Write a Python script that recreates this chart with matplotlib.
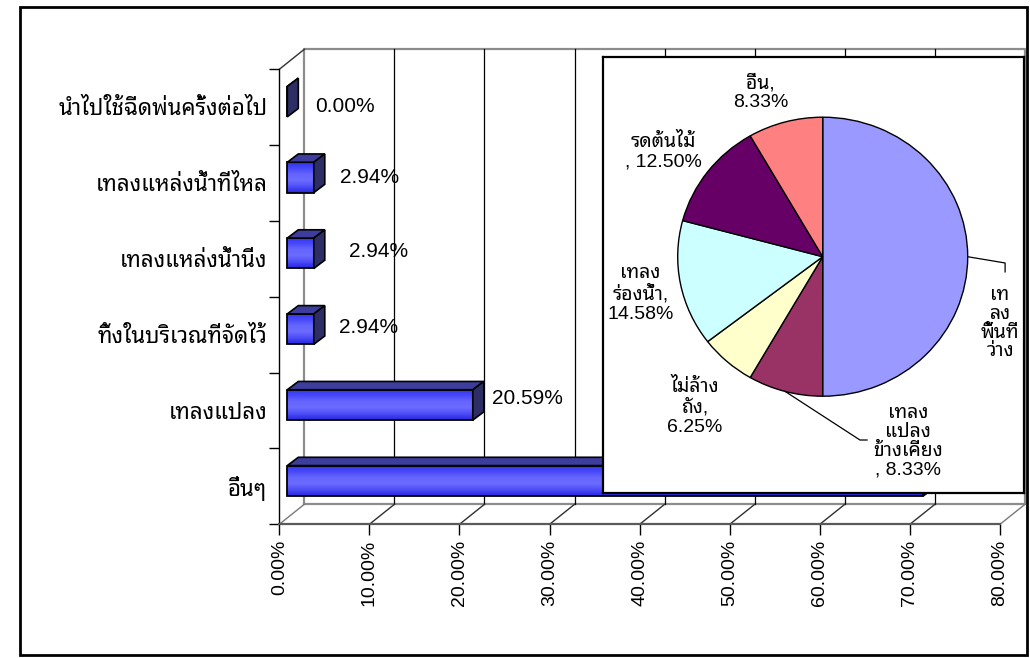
import matplotlib
matplotlib.use("Agg")
import matplotlib.pyplot as plt
import numpy as np
from matplotlib import font_manager
from matplotlib.patches import Polygon, Rectangle

# ---- data -------------------------------------------------------------------
categories = ["นำไปใช้ฉีดพ่นครั้งต่อไป", "เทลงแหล่งน้ำที่ไหล", "เทลงแหล่งน้ำนิ่ง",
              "ทิ้งในบริเวณที่จัดไว้", "เทลงแปลง", "อื่นๆ"]
values = [0.00, 2.94, 2.94, 2.94, 20.59, 70.59]
x_ticks = [0, 10, 20, 30, 40, 50, 60, 70, 80]

pie_names = ["เท\nลง\nพื้นที่\nว่าง", "เทลง\nแปลง\nข้างเคียง", "ไม่ล้าง\nถัง",
             "เทลง\nร่องน้ำ", "รดต้นไม้", "อื่น"]
pie_values = [50.00, 8.33, 6.25, 14.58, 12.50, 8.33]
pie_colors = ["#9999FF", "#993366", "#FFFFCC", "#CCFFFF", "#660066", "#FF8080"]

# ---- fonts: Latin in Liberation Sans, Thai from a Thai family -------------------
names = {f.name for f in font_manager.fontManager.ttflist}
thai = next((n for n in ["Noto Sans Thai Looped", "IBM Plex Sans Thai Looped",
                         "Sarabun", "Noto Sans Thai", "Anuphan"] if n in names), "DejaVu Sans")
FAM = ["Liberation Sans", thai, "DejaVu Sans"]
plt.rcParams["font.family"] = FAM

W, H_FIG = 1030, 658
fig = plt.figure(figsize=(W / 100, H_FIG / 100), dpi=100, facecolor="white")

# front plane of the 3-D bar chart
ax_l, ax_r, ax_t, ax_b = 279.3, 1000.0, 69.3, 524.3
ax = fig.add_axes([ax_l / W, 1 - ax_b / H_FIG, (ax_r - ax_l) / W, (ax_b - ax_t) / H_FIG])
ax.set_facecolor("none")
PXX = (ax_r - ax_l) / 80.0
PXY = (ax_b - ax_t) / 6.0

WX, WY = 25 / PXX, 20 / PXY      # depth of the wall
FX, FY = 8 / PXX, 5.6 / PXY      # bar front plane
BX, BY = 11 / PXX, 8.3 / PXY     # bar depth
BH = 30.4 / PXY                  # bar height

# back wall + gridlines
wall = dict(color="#8c8c8c", lw=1.6, clip_on=False, zorder=1)
ax.plot([WX, WX, 80 + WX, 80 + WX, WX], [-0.5 + WY, 5.5 + WY, 5.5 + WY, -0.5 + WY, -0.5 + WY], **wall)
for t in x_ticks[1:-1]:
    ax.plot([t + WX, t + WX], [-0.5 + WY, 5.5 + WY], color="black", lw=0.9, clip_on=False, zorder=1)
# floor diagonals
for t in x_ticks:
    c = "#7a7a7a" if t in (0, 80) else "#303030"
    ax.plot([t, t + WX], [-0.5, -0.5 + WY], color=c, lw=1.0, clip_on=False, zorder=1)
ax.plot([0, WX], [5.5, 5.5 + WY], color="#303030", lw=1.0, clip_on=False, zorder=1)

# bars (bottom category first)
vals = values[::-1]
cats = categories[::-1]
ypos = np.arange(len(vals))
grad_stops = np.array([[0.20, 0.20, 0.93], [0.28, 0.28, 0.98], [0.40, 0.40, 1.0],
                       [0.42, 0.42, 1.0], [0.30, 0.30, 0.97], [0.15, 0.15, 0.88]])
gy = np.linspace(0, 1, len(grad_stops))
gg = np.linspace(0, 1, 64)
grad = np.stack([np.interp(gg, gy, grad_stops[:, k]) for k in range(3)], axis=1)[:, None, :]

bars = ax.barh(ypos + FY, vals, left=FX, height=BH, color="none", edgecolor="black",
               linewidth=1.3, zorder=4)
for i, (v, b) in enumerate(zip(vals, bars)):
    y0, y1 = i + FY - BH / 2, i + FY + BH / 2
    x0, x1 = FX, FX + v
    if v > 0:
        im = ax.imshow(grad, extent=[x0, x1, y0, y1], aspect="auto", origin="upper",
                       interpolation="bilinear", zorder=3)
        im.set_clip_path(b)
    ax.add_patch(Polygon([(x0, y1), (x1, y1), (x1 + BX, y1 + BY), (x0 + BX, y1 + BY)],
                         closed=True, fc="#3d3d9e", ec="black", lw=1.2, zorder=4))
    ax.add_patch(Polygon([(x1, y0), (x1 + BX, y0 + BY), (x1 + BX, y1 + BY), (x1, y1)],
                         closed=True, fc="#2e2e66", ec="black", lw=1.2, zorder=4))

# value labels (pixel nudges, top category first)
label_nudge = [(17, -5), (15, 0), (24, 2), (14, 2), (8, 6), (8, 0)][::-1]
for i, v in enumerate(vals):
    ax.annotate(f"{v:.2f}%", xy=(FX + v + BX, i + FY), xytext=label_nudge[i],
                textcoords="offset pixels", ha="left", va="center", fontsize=15,
                color="black", zorder=5, annotation_clip=False)

ax.set_xlim(0, 80)
ax.set_ylim(-0.5, 5.5)
for s in ("top", "right"):
    ax.spines[s].set_visible(False)
ax.spines["left"].set_color("black")
ax.spines["left"].set_linewidth(1.0)
ax.spines["bottom"].set_color("#5a5a5a")
ax.spines["bottom"].set_linewidth(1.6)

ax.set_xticks(x_ticks, labels=[f"{t:.2f}%" for t in x_ticks], rotation=90, fontsize=14)
ax.tick_params(axis="x", length=8, width=1.0, color="black", pad=3)
ax.set_yticks(np.arange(-0.5, 6.0, 1.0), labels=[""] * 7)
ax.tick_params(axis="y", which="major", length=7, width=1.0, color="black")
ax.set_yticks(ypos, labels=cats, minor=True, fontsize=16)
ax.tick_params(axis="y", which="minor", length=0, pad=8.6)

# ---- pie inset --------------------------------------------------------------
p_l, p_r, p_t, p_b = 603.0, 1024.0, 57.0, 493.0
pax = fig.add_axes([p_l / W, 1 - p_b / H_FIG, (p_r - p_l) / W, (p_b - p_t) / H_FIG])
pax.pie(pie_values, colors=pie_colors, startangle=90, counterclock=False,
        wedgeprops=dict(edgecolor="black", linewidth=1.0))
pax.set_frame_on(True)
pax.set_facecolor("white")
cx, cy, rx, ry = 822.7, 256.7, 145.0, 139.5
pax.set_aspect("auto")
pax.set_xlim((p_l - cx) / rx, (p_r - cx) / rx)
pax.set_ylim((cy - p_b) / ry, (cy - p_t) / ry)
pax.set_xticks([])
pax.set_yticks([])
for s in pax.spines.values():
    s.set_visible(True)
    s.set_color("black")
    s.set_linewidth(1.6)

seps = [None, "\n, ", ",\n", ",\n", "\n, ", ",\n"]
label_xy = [(1.223, -0.479), (0.588, -1.326), (-0.881, -1.075),
            (-1.258, -0.267), (-1.099, 0.753), (-0.430, 1.177)]
for name, v, sep, (lx, ly) in zip(pie_names, pie_values, seps, label_xy):
    txt = name if sep is None else f"{name}{sep}{v:.2f}%"
    pax.text(lx, ly, txt, ha="center", va="center", multialignment="center",
             fontsize=14, linespacing=1.15)

# leader lines for the two right-hand slices
total = sum(pie_values)
cum = np.cumsum([0] + pie_values)
leader = {0: [(1.258, -0.045), (1.258, -0.109)], 1: [(0.257, -1.314), (0.306, -1.314)]}
for k, pts in leader.items():
    ang = np.deg2rad(90 - 360 * (cum[k] + pie_values[k] / 2) / total)
    xs = [np.cos(ang)] + [p[0] for p in pts]
    ys = [np.sin(ang)] + [p[1] for p in pts]
    pax.plot(xs, ys, color="black", lw=0.9)

# outer chart frame
fig.add_artist(Rectangle((20 / W, 1 - 655 / H_FIG), 1007 / W, 648 / H_FIG,
                         transform=fig.transFigure, fill=False, ec="black", lw=2.0))

fig.savefig("out.png", dpi=100, facecolor="white")
